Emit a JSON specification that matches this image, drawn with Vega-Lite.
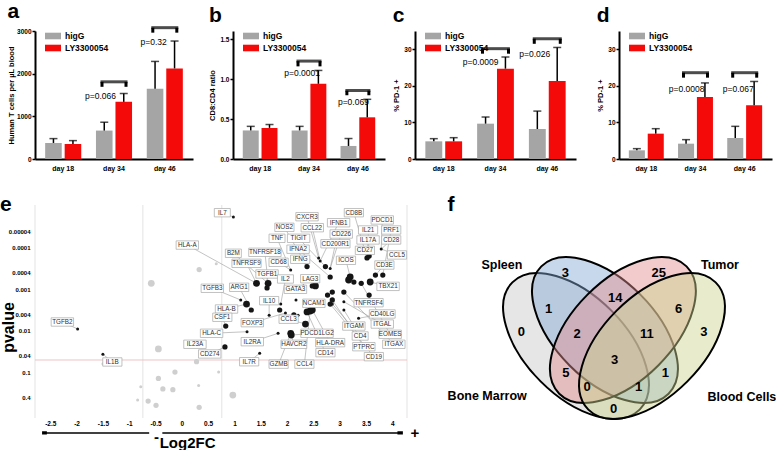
{
"$schema": "https://vega.github.io/schema/vega-lite/v6.json",
"background": "white",
"padding": {"left": 0, "top": 1, "right": 0, "bottom": 0},
"config": {
  "font": "Liberation Sans",
  "view": {"stroke": null},
  "axis": {"grid": false, "labelOverlap": false, "labelFont": "Liberation Sans", "titleFont": "Liberation Sans", "labelColor": "black", "titleColor": "black", "domainColor": "black", "tickColor": "black", "labelFontWeight": "bold", "titleFontWeight": "bold"},
  "legend": {"labelFont": "Liberation Sans", "labelFontWeight": "bold", "labelColor": "black"},
  "title": {"font": "Liberation Sans", "fontWeight": "bold", "fontSize": 21, "anchor": "start", "frame": "bounds", "color": "black", "offset": 0},
  "text": {"font": "Liberation Sans"}
},
"datasets": {
  "a": [
    {"day": "day 18", "group": "higG", "v": 376, "hi": 478},
    {"day": "day 18", "group": "LY3300054", "v": 352, "hi": 431},
    {"day": "day 34", "group": "higG", "v": 666, "hi": 862},
    {"day": "day 34", "group": "LY3300054", "v": 1339, "hi": 1535},
    {"day": "day 46", "group": "higG", "v": 1645, "hi": 2287},
    {"day": "day 46", "group": "LY3300054", "v": 2123, "hi": 2765}
  ],
  "ab": [
    {"day": "day 34", "by": 1809, "ly": 1692, "ty": 1488, "p": "p=0.066"},
    {"day": "day 46", "by": 3078, "ly": 2961, "ty": 2749, "p": "p=0.32"}
  ],
  "b": [
    {"day": "day 18", "group": "higG", "v": 0.357, "hi": 0.408},
    {"day": "day 18", "group": "LY3300054", "v": 0.389, "hi": 0.431},
    {"day": "day 34", "group": "higG", "v": 0.357, "hi": 0.408},
    {"day": "day 34", "group": "LY3300054", "v": 0.94, "hi": 1.107},
    {"day": "day 46", "group": "higG", "v": 0.163, "hi": 0.256},
    {"day": "day 46", "group": "LY3300054", "v": 0.521, "hi": 0.746}
  ],
  "bb": [
    {"day": "day 34", "by": 1.224, "ly": 1.158, "ty": 1.08, "p": "p=0.0001"},
    {"day": "day 46", "by": 0.855, "ly": 0.797, "ty": 0.711, "p": "p=0.069"}
  ],
  "c": [
    {"day": "day 18", "group": "higG", "v": 4.83, "hi": 5.56},
    {"day": "day 18", "group": "LY3300054", "v": 4.83, "hi": 5.83},
    {"day": "day 34", "group": "higG", "v": 9.66, "hi": 11.48},
    {"day": "day 34", "group": "LY3300054", "v": 24.7, "hi": 27.89},
    {"day": "day 46", "group": "higG", "v": 8.2, "hi": 13.1},
    {"day": "day 46", "group": "LY3300054", "v": 21.33, "hi": 30.5}
  ],
  "cb": [
    {"day": "day 34", "by": 30.17, "ly": 28.8, "ty": 26.5, "p": "p=0.0009"},
    {"day": "day 46", "by": 32.9, "ly": 31.5, "ty": 28.6, "p": "p=0.026"}
  ],
  "d": [
    {"day": "day 18", "group": "higG", "v": 2.37, "hi": 2.83},
    {"day": "day 18", "group": "LY3300054", "v": 6.93, "hi": 8.29},
    {"day": "day 34", "group": "higG", "v": 4.19, "hi": 5.29},
    {"day": "day 34", "group": "LY3300054", "v": 16.95, "hi": 20.8},
    {"day": "day 46", "group": "higG", "v": 5.74, "hi": 8.93},
    {"day": "day 46", "group": "LY3300054", "v": 14.68, "hi": 21.2}
  ],
  "db": [
    {"day": "day 34", "by": 23.6, "ly": 22.24, "ty": 19.05, "p": "p=0.0008"},
    {"day": "day 46", "by": 23.6, "ly": 22.24, "ty": 19.05, "p": "p=0.067"}
  ],
  "pts": [
    {"fc": -0.59, "p": 0.00071, "w": 3, "sig": "ns"},
    {"fc": 0.645, "p": 0.00024, "w": 1, "sig": "ns"},
    {"fc": 0.32, "p": 0.00033, "w": 2, "sig": "ns"},
    {"fc": -0.455, "p": 0.027, "w": 3, "sig": "ns"},
    {"fc": 0.27, "p": 0.055, "w": 2, "sig": "ns"},
    {"fc": -1.51, "p": 0.062, "w": 1, "sig": "ns"},
    {"fc": -0.14, "p": 0.0975, "w": 2, "sig": "ns"},
    {"fc": 0.69, "p": 0.0975, "w": 1, "sig": "ns"},
    {"fc": -0.455, "p": 0.139, "w": 2, "sig": "ns"},
    {"fc": -0.79, "p": 0.22, "w": 1, "sig": "ns"},
    {"fc": 0.31, "p": 0.205, "w": 1, "sig": "ns"},
    {"fc": -0.37, "p": 0.25, "w": 2, "sig": "ns"},
    {"fc": -0.18, "p": 0.26, "w": 2, "sig": "ns"},
    {"fc": 0.96, "p": 0.35, "w": 3, "sig": "ns"},
    {"fc": -0.85, "p": 0.46, "w": 1, "sig": "ns"},
    {"fc": -0.65, "p": 0.49, "w": 2, "sig": "ns"},
    {"fc": -0.5, "p": 0.62, "w": 2, "sig": "ns"},
    {"fc": 0.32, "p": 0.69, "w": 2, "sig": "ns"},
    {"fc": 0.97, "p": 0.0000179, "w": 1, "sig": "s"},
    {"fc": -1.99, "p": 0.00895, "w": 1, "sig": "s"},
    {"fc": -1.51, "p": 0.0363, "w": 1, "sig": "s"},
    {"fc": 0.825, "p": 0.0076, "w": 2, "sig": "s"},
    {"fc": 0.81, "p": 0.0243, "w": 2, "sig": "s"},
    {"fc": 1.23, "p": 0.0104, "w": 1, "sig": "s"},
    {"fc": 1.47, "p": 0.0344, "w": 1, "sig": "s"},
    {"fc": 1.11, "p": 0.00179, "w": 1, "sig": "s"},
    {"fc": 1.22, "p": 0.00224, "w": 3, "sig": "s"},
    {"fc": 1.31, "p": 0.00312, "w": 2, "sig": "s"},
    {"fc": 1.41, "p": 0.00071, "w": 3, "sig": "s"},
    {"fc": 1.63, "p": 0.00071, "w": 3, "sig": "s"},
    {"fc": 1.61, "p": 0.00092, "w": 2, "sig": "s"},
    {"fc": 2.06, "p": 0.00034, "w": 1, "sig": "s"},
    {"fc": 2.37, "p": 0.00028, "w": 2, "sig": "s"},
    {"fc": 1.87, "p": 0.00224, "w": 1, "sig": "s"},
    {"fc": 1.85, "p": 0.00312, "w": 2, "sig": "s"},
    {"fc": 1.96, "p": 0.00368, "w": 1, "sig": "s"},
    {"fc": 2.12, "p": 0.00411, "w": 2, "sig": "s"},
    {"fc": 1.82, "p": 0.0114, "w": 1, "sig": "s"},
    {"fc": 2.06, "p": 0.0114, "w": 3, "sig": "s"},
    {"fc": 2.07, "p": 0.0125, "w": 3, "sig": "s"},
    {"fc": 2.34, "p": 0.0068, "w": 3, "sig": "s"},
    {"fc": 2.37, "p": 0.00348, "w": 3, "sig": "s"},
    {"fc": 2.43, "p": 0.0033, "w": 3, "sig": "s"},
    {"fc": 2.47, "p": 0.00312, "w": 3, "sig": "s"},
    {"fc": 2.53, "p": 0.00082, "w": 3, "sig": "s"},
    {"fc": 2.47, "p": 0.00082, "w": 2, "sig": "s"},
    {"fc": 2.3, "p": 0.00082, "w": 1, "sig": "s"},
    {"fc": 2.16, "p": 0.00179, "w": 1, "sig": "s"},
    {"fc": 2.76, "p": 0.00136, "w": 2, "sig": "s"},
    {"fc": 2.85, "p": 0.00115, "w": 2, "sig": "s"},
    {"fc": 2.85, "p": 0.00179, "w": 2, "sig": "s"},
    {"fc": 2.81, "p": 0.00224, "w": 2, "sig": "s"},
    {"fc": 3.07, "p": 0.00115, "w": 2, "sig": "s"},
    {"fc": 3.07, "p": 0.00197, "w": 1, "sig": "s"},
    {"fc": 2.81, "p": 0.0005, "w": 2, "sig": "s"},
    {"fc": 2.59, "p": 0.000174, "w": 1, "sig": "s"},
    {"fc": 2.72, "p": 0.00028, "w": 2, "sig": "s"},
    {"fc": 2.62, "p": 0.000206, "w": 1, "sig": "s"},
    {"fc": 2.81, "p": 0.00031, "w": 1, "sig": "s"},
    {"fc": 3.19, "p": 0.0005, "w": 3, "sig": "s"},
    {"fc": 3.16, "p": 0.00059, "w": 3, "sig": "s"},
    {"fc": 3.26, "p": 0.00066, "w": 2, "sig": "s"},
    {"fc": 3.4, "p": 0.00071, "w": 2, "sig": "s"},
    {"fc": 3.57, "p": 0.00066, "w": 3, "sig": "s"},
    {"fc": 3.67, "p": 0.00045, "w": 2, "sig": "s"},
    {"fc": 3.81, "p": 0.00045, "w": 2, "sig": "s"},
    {"fc": 3.51, "p": 0.000174, "w": 2, "sig": "s"},
    {"fc": 3.55, "p": 0.000156, "w": 2, "sig": "s"},
    {"fc": 3.78, "p": 0.000106, "w": 1, "sig": "s"},
    {"fc": 3.55, "p": 0.00136, "w": 2, "sig": "s"},
    {"fc": 3.07, "p": 0.00312, "w": 1, "sig": "s"},
    {"fc": 3.35, "p": 0.00494, "w": 1, "sig": "s"},
    {"fc": 2.85, "p": 0.00224, "w": 1, "sig": "s"},
    {"fc": 1.65, "p": 0.0042, "w": 1, "sig": "s"},
    {"fc": 2.2, "p": 0.0042, "w": 1, "sig": "s"}
  ],
  "labs": [
    {"g": "IL7", "lx": 0.76, "ly": 0.0000141, "tx": 0.97, "ty": 0.0000179},
    {"g": "TGFB2", "lx": -2.28, "ly": 0.00607, "tx": -1.99, "ty": 0.00895},
    {"g": "IL1B", "lx": -1.33, "ly": 0.0558, "tx": -1.51, "ty": 0.0363},
    {"g": "HLA-A", "lx": 0.095, "ly": 0.000085, "tx": 1.41, "ty": 0.00071},
    {"g": "B2M", "lx": 0.97, "ly": 0.000134, "tx": 1.63, "ty": 0.00071},
    {"g": "TNFRSF9", "lx": 1.22, "ly": 0.000234, "tx": 1.41, "ty": 0.00071},
    {"g": "TNFRSF18", "lx": 1.57, "ly": 0.000127, "tx": 1.63, "ty": 0.00071},
    {"g": "TGFB3", "lx": 0.57, "ly": 0.000935, "tx": 1.11, "ty": 0.00179},
    {"g": "ARG1", "lx": 1.08, "ly": 0.000885, "tx": 1.31, "ty": 0.00312},
    {"g": "HLA-B", "lx": 0.84, "ly": 0.00295, "tx": 1.22, "ty": 0.00224},
    {"g": "CSF1", "lx": 0.76, "ly": 0.00467, "tx": 0.825, "ty": 0.0076},
    {"g": "HLA-C", "lx": 0.556, "ly": 0.01136, "tx": 1.23, "ty": 0.0104},
    {"g": "IL23A", "lx": 0.24, "ly": 0.0209, "tx": 0.24, "ty": 0.0209},
    {"g": "CD274", "lx": 0.52, "ly": 0.0358, "tx": 0.81, "ty": 0.0243},
    {"g": "CXCR3", "lx": 2.37, "ly": 0.0000176, "tx": 2.59, "ty": 0.000174},
    {"g": "NOS2", "lx": 1.94, "ly": 0.0000317, "tx": 2.37, "ty": 0.00028},
    {"g": "CCL22", "lx": 2.47, "ly": 0.0000324, "tx": 2.62, "ty": 0.000206},
    {"g": "TNF", "lx": 1.8, "ly": 0.0000584, "tx": 2.06, "ty": 0.00034},
    {"g": "TIGIT", "lx": 2.21, "ly": 0.0000584, "tx": 2.72, "ty": 0.00028},
    {"g": "IFNA2", "lx": 2.2, "ly": 0.000107, "tx": 2.81, "ty": 0.0005},
    {"g": "IFNG", "lx": 2.24, "ly": 0.000187, "tx": 2.37, "ty": 0.00028},
    {"g": "CD68", "lx": 1.83, "ly": 0.000221, "tx": 2.06, "ty": 0.00034},
    {"g": "TGFB1", "lx": 1.61, "ly": 0.000423, "tx": 1.61, "ty": 0.00092},
    {"g": "IL2", "lx": 1.96, "ly": 0.000558, "tx": 1.87, "ty": 0.00224},
    {"g": "LAG3", "lx": 2.43, "ly": 0.00055, "tx": 2.53, "ty": 0.00082},
    {"g": "GATA3", "lx": 2.15, "ly": 0.00099, "tx": 2.3, "ty": 0.00082},
    {"g": "IL10", "lx": 1.65, "ly": 0.00186, "tx": 1.65, "ty": 0.0042},
    {"g": "NCAM1", "lx": 2.5, "ly": 0.00215, "tx": 2.43, "ty": 0.0033},
    {"g": "FOXP3", "lx": 1.33, "ly": 0.0063, "tx": 1.96, "ty": 0.00368},
    {"g": "CCL3", "lx": 2.02, "ly": 0.0052, "tx": 2.34, "ty": 0.0068},
    {"g": "PDCD1LG2", "lx": 2.56, "ly": 0.01136, "tx": 2.07, "ty": 0.0125},
    {"g": "IL2RA", "lx": 1.33, "ly": 0.0181, "tx": 1.82, "ty": 0.0114},
    {"g": "HAVCR2", "lx": 2.12, "ly": 0.0209, "tx": 2.07, "ty": 0.0125},
    {"g": "HLA-DRA", "lx": 2.81, "ly": 0.0191, "tx": 2.47, "ty": 0.00312},
    {"g": "CD14", "lx": 2.72, "ly": 0.0333, "tx": 2.37, "ty": 0.00348},
    {"g": "IL7R", "lx": 1.27, "ly": 0.055, "tx": 1.47, "ty": 0.0344},
    {"g": "GZMB", "lx": 1.83, "ly": 0.063, "tx": 2.06, "ty": 0.0114},
    {"g": "CCL4", "lx": 2.32, "ly": 0.063, "tx": 2.43, "ty": 0.0033},
    {"g": "CD8B", "lx": 3.26, "ly": 0.0000141, "tx": 3.51, "ty": 0.000174},
    {"g": "PDCD1", "lx": 3.8, "ly": 0.0000211, "tx": 3.78, "ty": 0.000106},
    {"g": "IFNB1", "lx": 2.97, "ly": 0.0000246, "tx": 2.62, "ty": 0.000206},
    {"g": "IL21", "lx": 3.53, "ly": 0.0000368, "tx": 3.55, "ty": 0.000156},
    {"g": "PRF1", "lx": 3.97, "ly": 0.0000368, "tx": 3.81, "ty": 0.00045},
    {"g": "CD226", "lx": 3.02, "ly": 0.000046, "tx": 2.81, "ty": 0.00031},
    {"g": "IL17A", "lx": 3.53, "ly": 0.000064, "tx": 3.51, "ty": 0.000174},
    {"g": "CD28", "lx": 3.97, "ly": 0.000064, "tx": 3.78, "ty": 0.000106},
    {"g": "CD200R1", "lx": 2.91, "ly": 0.000079, "tx": 2.81, "ty": 0.00031},
    {"g": "CD27", "lx": 3.47, "ly": 0.000114, "tx": 3.51, "ty": 0.000174},
    {"g": "CCL5", "lx": 4.08, "ly": 0.000147, "tx": 3.78, "ty": 0.000106},
    {"g": "ICOS", "lx": 3.11, "ly": 0.000198, "tx": 3.19, "ty": 0.0005},
    {"g": "CD3E", "lx": 3.84, "ly": 0.000257, "tx": 3.67, "ty": 0.00045},
    {"g": "TBX21", "lx": 3.91, "ly": 0.00084, "tx": 3.57, "ty": 0.00066},
    {"g": "TNFRSF4", "lx": 3.54, "ly": 0.00208, "tx": 3.55, "ty": 0.00136},
    {"g": "CD40LG", "lx": 3.8, "ly": 0.00389, "tx": 3.35, "ty": 0.00494},
    {"g": "ITGAM", "lx": 3.26, "ly": 0.0076, "tx": 3.07, "ty": 0.00312},
    {"g": "ITGAL", "lx": 3.8, "ly": 0.0068, "tx": 3.07, "ty": 0.00197},
    {"g": "CD4", "lx": 3.38, "ly": 0.0132, "tx": 2.85, "ty": 0.00224},
    {"g": "EOMES", "lx": 3.95, "ly": 0.012, "tx": 3.4, "ty": 0.00071},
    {"g": "PTPRC", "lx": 3.45, "ly": 0.0239, "tx": 2.85, "ty": 0.00179},
    {"g": "ITGAX", "lx": 4.02, "ly": 0.0209, "tx": 3.07, "ty": 0.00115},
    {"g": "CD19", "lx": 3.64, "ly": 0.0416, "tx": 2.81, "ty": 0.00224}
  ],
  "xt": [
    {"v": -2.5, "t": "-2.5"}, {"v": -2, "t": "-2"}, {"v": -1.5, "t": "-1.5"}, {"v": -1, "t": "-1"},
    {"v": -0.5, "t": "-0.5"}, {"v": 0, "t": "0"}, {"v": 0.5, "t": "0.5"}, {"v": 1, "t": "1"},
    {"v": 1.5, "t": "1.5"}, {"v": 2, "t": "2"}, {"v": 2.5, "t": "2.5"}, {"v": 3, "t": "3"},
    {"v": 3.5, "t": "3.5"}, {"v": 4, "t": "4"}
  ],
  "vlines": [{"fc": -2.8}, {"fc": -0.75}, {"fc": 0.75}, {"fc": 4.27}],
  "hline": [{"p": 0.05}],
  "arrows": [{"x1": -2.62, "x2": -0.63, "y": 2.87}, {"x1": -0.38, "x2": 4.14, "y": 2.87}],
  "heads": [{"x1": -2.62, "y": 2.87, "d": "L"}, {"x1": 4.14, "y": 2.87, "d": "R"}],
  "etext": [{"t": "-", "x1": -0.49, "y": 3.6}, {"t": "+", "x1": 4.42, "y": 2.95}, {"t": "Log2FC", "x1": 0.1, "y": 5.0}],
  "sets": [
    {"set": "Bone Marrow", "x": 0.3875, "y": 0.5875, "tilt": "down"},
    {"set": "Spleen", "x": 0.478, "y": 0.521, "tilt": "down"},
    {"set": "Tumor", "x": 0.534, "y": 0.521, "tilt": "up"},
    {"set": "Blood Cells", "x": 0.625, "y": 0.5875, "tilt": "up"}
  ],
  "regions": [
    {"n": "3", "x": 0.354, "y": 0.285},
    {"n": "25", "x": 0.646, "y": 0.285},
    {"n": "0", "x": 0.217, "y": 0.53},
    {"n": "3", "x": 0.787, "y": 0.53},
    {"n": "14", "x": 0.51, "y": 0.389},
    {"n": "1", "x": 0.302, "y": 0.433},
    {"n": "6", "x": 0.708, "y": 0.433},
    {"n": "2", "x": 0.391, "y": 0.539},
    {"n": "11", "x": 0.609, "y": 0.539},
    {"n": "3", "x": 0.508, "y": 0.646},
    {"n": "5", "x": 0.356, "y": 0.699},
    {"n": "1", "x": 0.667, "y": 0.699},
    {"n": "0", "x": 0.422, "y": 0.757},
    {"n": "1", "x": 0.583, "y": 0.757},
    {"n": "0", "x": 0.505, "y": 0.85}
  ],
  "setnames": [
    {"t": "Spleen", "x": 0.156, "y": 0.25},
    {"t": "Tumor", "x": 0.8375, "y": 0.25},
    {"t": "Bone Marrow", "x": 0.11, "y": 0.796},
    {"t": "Blood Cells", "x": 0.906, "y": 0.8}
  ]
},
"resolve": {"scale": {"color": "independent", "xOffset": "independent", "shape": "independent", "size": "independent"}, "legend": {"color": "independent"}},
"spacing": 22,
"vconcat": [
  {
    "spacing": 15,
    "resolve": {"scale": {"color": "independent", "xOffset": "independent", "shape": "independent", "size": "independent"}, "legend": {"color": "independent"}},
    "hconcat": [
      {
        "width": 158, "height": 128,
        "title": {"text": "a"},
        "layer": [
          {"data": {"name": "a"}, "mark": {"type": "bar"},
           "encoding": {
             "x": {"field": "day", "type": "nominal", "scale": {"domain": ["day 18", "day 34", "day 46"], "paddingInner": 0.29, "paddingOuter": 0.2}, "axis": {"title": null, "labelAngle": 0, "labelFontSize": 7, "ticks": false, "domainWidth": 2, "labelPadding": 5}},
             "xOffset": {"field": "group", "type": "nominal", "scale": {"domain": ["higG", "LY3300054"], "paddingInner": 0.15}},
             "y": {"field": "v", "type": "quantitative", "scale": {"domain": [0, 3000]}, "axis": {"title": "Human T cells per µL blood", "values": [0, 1000, 2000, 3000], "format": "d", "labelFontSize": 6.5, "titleFontSize": 7.5, "tickSize": 3, "tickWidth": 1.5, "domainWidth": 2, "titlePadding": 1, "labelPadding": 1}},
             "color": {"field": "group", "type": "nominal", "scale": {"domain": ["higG", "LY3300054"], "range": ["#a5a5a5", "#f50a0a"]}, "legend": {"orient": "none", "legendX": 12, "legendY": -1, "title": null, "symbolType": "M -1.33 -0.55 L 1.33 -0.55 L 1.33 0.55 L -1.33 0.55 Z", "symbolSize": 144, "symbolStrokeWidth": 0, "labelFontSize": 8.5, "padding": 0, "rowPadding": 1, "labelOffset": 6}}
           }},
          {"data": {"name": "a"}, "mark": {"type": "rule", "color": "black", "strokeWidth": 1.5},
           "encoding": {"x": {"field": "day", "type": "nominal"}, "xOffset": {"field": "group", "type": "nominal"}, "y": {"field": "v", "type": "quantitative"}, "y2": {"field": "hi"}}},
          {"data": {"name": "a"}, "mark": {"type": "tick", "orient": "horizontal", "color": "black", "size": 8, "thickness": 1.5},
           "encoding": {"x": {"field": "day", "type": "nominal"}, "xOffset": {"field": "group", "type": "nominal"}, "y": {"field": "hi", "type": "quantitative"}}},
          {"data": {"name": "ab"}, "mark": {"type": "tick", "orient": "horizontal", "color": "black", "size": 27, "thickness": 3},
           "encoding": {"x": {"field": "day", "type": "nominal"}, "y": {"field": "by", "type": "quantitative"}}},
          {"data": {"name": "ab"}, "mark": {"type": "rule", "color": "black", "strokeWidth": 3, "xOffset": -12},
           "encoding": {"x": {"field": "day", "type": "nominal"}, "y": {"field": "by", "type": "quantitative"}, "y2": {"field": "ly"}}},
          {"data": {"name": "ab"}, "mark": {"type": "rule", "color": "black", "strokeWidth": 3, "xOffset": 12},
           "encoding": {"x": {"field": "day", "type": "nominal"}, "y": {"field": "by", "type": "quantitative"}, "y2": {"field": "ly"}}},
          {"data": {"name": "ab"}, "mark": {"type": "text", "align": "right", "baseline": "middle", "dx": 2, "fontSize": 8.5, "color": "black"},
           "encoding": {"x": {"field": "day", "type": "nominal"}, "y": {"field": "ty", "type": "quantitative"}, "text": {"field": "p"}}}
        ]
      },
      {
        "spacing": 20,
        "resolve": {"scale": {"color": "independent", "xOffset": "independent", "shape": "independent", "size": "independent"}, "legend": {"color": "independent"}},
        "hconcat": [
          {
            "spacing": 7,
            "resolve": {"scale": {"color": "independent", "xOffset": "independent", "shape": "independent", "size": "independent"}, "legend": {"color": "independent"}},
            "hconcat": [
              {
                "width": 152, "height": 128,
                "title": {"text": "b"},
                "layer": [
                  {"data": {"name": "b"}, "mark": {"type": "bar"},
                   "encoding": {
                     "x": {"field": "day", "type": "nominal", "scale": {"domain": ["day 18", "day 34", "day 46"], "paddingInner": 0.29, "paddingOuter": 0.2}, "axis": {"title": null, "labelAngle": 0, "labelFontSize": 7, "ticks": false, "domainWidth": 2, "labelPadding": 5}},
                     "xOffset": {"field": "group", "type": "nominal", "scale": {"domain": ["higG", "LY3300054"], "paddingInner": 0.15}},
                     "y": {"field": "v", "type": "quantitative", "scale": {"domain": [0, 1.5]}, "axis": {"title": "CD8:CD4 ratio", "values": [0, 0.5, 1, 1.5], "format": ".1f", "labelFontSize": 6.5, "titleFontSize": 7.5, "tickSize": 3, "tickWidth": 1.5, "domainWidth": 2, "titlePadding": 3, "labelPadding": 1}},
                     "color": {"field": "group", "type": "nominal", "scale": {"domain": ["higG", "LY3300054"], "range": ["#a5a5a5", "#f50a0a"]}, "legend": {"orient": "none", "legendX": 12, "legendY": -1, "title": null, "symbolType": "M -1.33 -0.55 L 1.33 -0.55 L 1.33 0.55 L -1.33 0.55 Z", "symbolSize": 144, "symbolStrokeWidth": 0, "labelFontSize": 8.5, "padding": 0, "rowPadding": 1, "labelOffset": 6}}
                   }},
                  {"data": {"name": "b"}, "mark": {"type": "rule", "color": "black", "strokeWidth": 1.5},
                   "encoding": {"x": {"field": "day", "type": "nominal"}, "xOffset": {"field": "group", "type": "nominal"}, "y": {"field": "v", "type": "quantitative"}, "y2": {"field": "hi"}}},
                  {"data": {"name": "b"}, "mark": {"type": "tick", "orient": "horizontal", "color": "black", "size": 8, "thickness": 1.5},
                   "encoding": {"x": {"field": "day", "type": "nominal"}, "xOffset": {"field": "group", "type": "nominal"}, "y": {"field": "hi", "type": "quantitative"}}},
                  {"data": {"name": "bb"}, "mark": {"type": "tick", "orient": "horizontal", "color": "black", "size": 25, "thickness": 3},
                   "encoding": {"x": {"field": "day", "type": "nominal"}, "y": {"field": "by", "type": "quantitative"}}},
                  {"data": {"name": "bb"}, "mark": {"type": "rule", "color": "black", "strokeWidth": 3, "xOffset": -11},
                   "encoding": {"x": {"field": "day", "type": "nominal"}, "y": {"field": "by", "type": "quantitative"}, "y2": {"field": "ly"}}},
                  {"data": {"name": "bb"}, "mark": {"type": "rule", "color": "black", "strokeWidth": 3, "xOffset": 11},
                   "encoding": {"x": {"field": "day", "type": "nominal"}, "y": {"field": "by", "type": "quantitative"}, "y2": {"field": "ly"}}},
                  {"data": {"name": "bb"}, "mark": {"type": "text", "align": "right", "baseline": "middle", "dx": 11, "fontSize": 8.5, "color": "black"},
                   "encoding": {"x": {"field": "day", "type": "nominal"}, "y": {"field": "ty", "type": "quantitative"}, "text": {"field": "p"}}}
                ]
              },
              {
                "width": 161, "height": 128,
                "title": {"text": "c"},
                "layer": [
                  {"data": {"name": "c"}, "mark": {"type": "bar"},
                   "encoding": {
                     "x": {"field": "day", "type": "nominal", "scale": {"domain": ["day 18", "day 34", "day 46"], "paddingInner": 0.29, "paddingOuter": 0.2}, "axis": {"title": null, "labelAngle": 0, "labelFontSize": 7, "ticks": false, "domainWidth": 2, "labelPadding": 5}},
                     "xOffset": {"field": "group", "type": "nominal", "scale": {"domain": ["higG", "LY3300054"], "paddingInner": 0.15}},
                     "y": {"field": "v", "type": "quantitative", "scale": {"domain": [0, 35]}, "axis": {"title": "% PD-1 +", "values": [0, 5, 10, 15, 20, 25, 30, 35], "labelFontSize": 6.5, "titleFontSize": 7.5, "tickSize": 3, "tickWidth": 1.5, "domainWidth": 2, "titlePadding": 3, "labelPadding": 1}},
                     "color": {"field": "group", "type": "nominal", "scale": {"domain": ["higG", "LY3300054"], "range": ["#a5a5a5", "#f50a0a"]}, "legend": {"orient": "none", "legendX": 12, "legendY": -1, "title": null, "symbolType": "M -1.33 -0.55 L 1.33 -0.55 L 1.33 0.55 L -1.33 0.55 Z", "symbolSize": 144, "symbolStrokeWidth": 0, "labelFontSize": 8.5, "padding": 0, "rowPadding": 1, "labelOffset": 6}}
                   }},
                  {"data": {"name": "c"}, "mark": {"type": "rule", "color": "black", "strokeWidth": 1.5},
                   "encoding": {"x": {"field": "day", "type": "nominal"}, "xOffset": {"field": "group", "type": "nominal"}, "y": {"field": "v", "type": "quantitative"}, "y2": {"field": "hi"}}},
                  {"data": {"name": "c"}, "mark": {"type": "tick", "orient": "horizontal", "color": "black", "size": 8, "thickness": 1.5},
                   "encoding": {"x": {"field": "day", "type": "nominal"}, "xOffset": {"field": "group", "type": "nominal"}, "y": {"field": "hi", "type": "quantitative"}}},
                  {"data": {"name": "cb"}, "mark": {"type": "tick", "orient": "horizontal", "color": "black", "size": 29, "thickness": 3},
                   "encoding": {"x": {"field": "day", "type": "nominal"}, "y": {"field": "by", "type": "quantitative"}}},
                  {"data": {"name": "cb"}, "mark": {"type": "rule", "color": "black", "strokeWidth": 3, "xOffset": -13},
                   "encoding": {"x": {"field": "day", "type": "nominal"}, "y": {"field": "by", "type": "quantitative"}, "y2": {"field": "ly"}}},
                  {"data": {"name": "cb"}, "mark": {"type": "rule", "color": "black", "strokeWidth": 3, "xOffset": 13},
                   "encoding": {"x": {"field": "day", "type": "nominal"}, "y": {"field": "by", "type": "quantitative"}, "y2": {"field": "ly"}}},
                  {"data": {"name": "cb"}, "mark": {"type": "text", "align": "right", "baseline": "middle", "dx": 3, "fontSize": 8.5, "color": "black"},
                   "encoding": {"x": {"field": "day", "type": "nominal"}, "y": {"field": "ty", "type": "quantitative"}, "text": {"field": "p"}}}
                ]
              }
            ]
          },
          {
            "width": 153, "height": 128,
            "title": {"text": "d"},
            "layer": [
              {"data": {"name": "d"}, "mark": {"type": "bar"},
               "encoding": {
                 "x": {"field": "day", "type": "nominal", "scale": {"domain": ["day 18", "day 34", "day 46"], "paddingInner": 0.29, "paddingOuter": 0.2}, "axis": {"title": null, "labelAngle": 0, "labelFontSize": 7, "ticks": false, "domainWidth": 2, "labelPadding": 5}},
                 "xOffset": {"field": "group", "type": "nominal", "scale": {"domain": ["higG", "LY3300054"], "paddingInner": 0.15}},
                 "y": {"field": "v", "type": "quantitative", "scale": {"domain": [0, 35]}, "axis": {"title": "% PD-1 +", "values": [0, 5, 10, 15, 20, 25, 30, 35], "labelFontSize": 6.5, "titleFontSize": 7.5, "tickSize": 3, "tickWidth": 1.5, "domainWidth": 2, "titlePadding": 3, "labelPadding": 1}},
                 "color": {"field": "group", "type": "nominal", "scale": {"domain": ["higG", "LY3300054"], "range": ["#a5a5a5", "#f50a0a"]}, "legend": {"orient": "none", "legendX": 12, "legendY": -1, "title": null, "symbolType": "M -1.33 -0.55 L 1.33 -0.55 L 1.33 0.55 L -1.33 0.55 Z", "symbolSize": 144, "symbolStrokeWidth": 0, "labelFontSize": 8.5, "padding": 0, "rowPadding": 1, "labelOffset": 6}}
               }},
              {"data": {"name": "d"}, "mark": {"type": "rule", "color": "black", "strokeWidth": 1.5},
               "encoding": {"x": {"field": "day", "type": "nominal"}, "xOffset": {"field": "group", "type": "nominal"}, "y": {"field": "v", "type": "quantitative"}, "y2": {"field": "hi"}}},
              {"data": {"name": "d"}, "mark": {"type": "tick", "orient": "horizontal", "color": "black", "size": 8, "thickness": 1.5},
               "encoding": {"x": {"field": "day", "type": "nominal"}, "xOffset": {"field": "group", "type": "nominal"}, "y": {"field": "hi", "type": "quantitative"}}},
              {"data": {"name": "db"}, "mark": {"type": "tick", "orient": "horizontal", "color": "black", "size": 27, "thickness": 3},
               "encoding": {"x": {"field": "day", "type": "nominal"}, "y": {"field": "by", "type": "quantitative"}}},
              {"data": {"name": "db"}, "mark": {"type": "rule", "color": "black", "strokeWidth": 3, "xOffset": -12},
               "encoding": {"x": {"field": "day", "type": "nominal"}, "y": {"field": "by", "type": "quantitative"}, "y2": {"field": "ly"}}},
              {"data": {"name": "db"}, "mark": {"type": "rule", "color": "black", "strokeWidth": 3, "xOffset": 12},
               "encoding": {"x": {"field": "day", "type": "nominal"}, "y": {"field": "by", "type": "quantitative"}, "y2": {"field": "ly"}}},
              {"data": {"name": "db"}, "mark": {"type": "text", "align": "right", "baseline": "middle", "dx": 9, "fontSize": 8.5, "color": "black"},
               "encoding": {"x": {"field": "day", "type": "nominal"}, "y": {"field": "ty", "type": "quantitative"}, "text": {"field": "p"}}}
            ]
          }
        ]
      }
    ]
  },
  {
    "spacing": 27,
    "resolve": {"scale": {"color": "independent", "xOffset": "independent", "shape": "independent", "size": "independent"}, "legend": {"color": "independent"}},
    "hconcat": [
      {
        "width": 372, "height": 213,
        "title": {"text": "e", "offset": -10},
        "layer": [
          {"data": {"name": "vlines"}, "mark": {"type": "rule", "color": "#e3e3e3", "strokeWidth": 1},
           "encoding": {"x": {"field": "fc", "type": "quantitative", "scale": {"domain": [-2.8, 4.27], "nice": false, "zero": false}, "axis": null}}},
          {"data": {"name": "hline"}, "mark": {"type": "rule", "color": "#ecc4c4", "strokeWidth": 1},
           "encoding": {"y": {"field": "p", "type": "quantitative", "scale": {"type": "log", "domain": [0.0000092, 1.25], "reverse": true, "nice": false}, "axis": {"title": "pvalue", "values": [0.00004, 0.0001, 0.0004, 0.001, 0.004, 0.01, 0.04, 0.1, 0.4], "labelExpr": "toString(datum.value)", "labelOverlap": false, "labelFontSize": 6, "ticks": false, "domain": false, "labelPadding": 5, "titleFontSize": 16, "titleX": -19, "titleY": 122}}}},
          {"data": {"name": "labs"}, "mark": {"type": "rule", "color": "#9a9a9a", "strokeWidth": 0.6},
           "encoding": {"x": {"field": "lx", "type": "quantitative", "axis": null}, "x2": {"field": "tx"}, "y": {"field": "ly", "type": "quantitative"}, "y2": {"field": "ty"}}},
          {"data": {"name": "pts"}, "mark": {"type": "point", "filled": true, "opacity": 1},
           "encoding": {"x": {"field": "fc", "type": "quantitative", "axis": null}, "y": {"field": "p", "type": "quantitative"},
             "color": {"field": "sig", "type": "nominal", "scale": {"domain": ["ns", "s"], "range": ["#cfcfcf", "#151515"]}, "legend": null},
             "size": {"field": "w", "type": "quantitative", "scale": {"domain": [1, 3], "range": [9, 46]}, "legend": null}}},
          {"data": {"name": "labs"}, "transform": [{"calculate": "length(datum.g)", "as": "n"}],
           "mark": {"type": "point", "filled": true, "fill": "white", "stroke": "#a8a8a8", "strokeWidth": 0.7, "size": 1600, "opacity": 1},
           "encoding": {"x": {"field": "lx", "type": "quantitative", "axis": null}, "y": {"field": "ly", "type": "quantitative"},
             "shape": {"field": "n", "type": "ordinal", "scale": {"domain": [3, 4, 5, 6, 7, 8], "range": [
               "M -0.4 -0.21 L 0.4 -0.21 L 0.4 0.21 L -0.4 0.21 Z",
               "M -0.48 -0.21 L 0.48 -0.21 L 0.48 0.21 L -0.48 0.21 Z",
               "M -0.56 -0.21 L 0.56 -0.21 L 0.56 0.21 L -0.56 0.21 Z",
               "M -0.645 -0.21 L 0.645 -0.21 L 0.645 0.21 L -0.645 0.21 Z",
               "M -0.73 -0.21 L 0.73 -0.21 L 0.73 0.21 L -0.73 0.21 Z",
               "M -0.81 -0.21 L 0.81 -0.21 L 0.81 0.21 L -0.81 0.21 Z"]}, "legend": null}}},
          {"data": {"name": "labs"}, "mark": {"type": "text", "fontSize": 6.3, "color": "#303030", "align": "center", "baseline": "middle"},
           "encoding": {"x": {"field": "lx", "type": "quantitative", "axis": null}, "y": {"field": "ly", "type": "quantitative"}, "text": {"field": "g"}}},
          {"data": {"name": "xt"}, "mark": {"type": "text", "fontSize": 6.5, "fontWeight": "bold", "color": "black", "align": "center", "baseline": "middle"},
           "encoding": {"x": {"field": "v", "type": "quantitative", "axis": null}, "y": {"datum": 1.74, "type": "quantitative"}, "text": {"field": "t"}}},
          {"data": {"name": "arrows"}, "mark": {"type": "rule", "color": "black", "strokeWidth": 1.6},
           "encoding": {"x": {"field": "x1", "type": "quantitative", "axis": null}, "x2": {"field": "x2"}, "y": {"field": "y", "type": "quantitative"}}},
          {"data": {"name": "heads"}, "mark": {"type": "point", "filled": false, "color": "black", "strokeWidth": 1.6, "size": 64, "opacity": 1},
           "encoding": {"x": {"field": "x1", "type": "quantitative", "axis": null}, "y": {"field": "y", "type": "quantitative"},
             "shape": {"field": "d", "type": "nominal", "scale": {"domain": ["L", "R"], "range": ["M 1 -1 L -1 0 L 1 1", "M -1 -1 L 1 0 L -1 1"]}, "legend": null}}},
          {"data": {"name": "etext"}, "mark": {"type": "text", "fontSize": 15, "fontWeight": "bold", "color": "black", "align": "center", "baseline": "middle"},
           "encoding": {"x": {"field": "x1", "type": "quantitative", "axis": null}, "y": {"field": "y", "type": "quantitative"}, "text": {"field": "t"}}}
        ]
      },
      {
        "width": 320, "height": 240,
        "title": {"text": "f", "offset": -10},
        "layer": [
          {"data": {"name": "sets"}, "transform": [{"filter": "datum.tilt == 'down'"}],
           "mark": {"type": "point", "filled": true, "shape": "M -1 0 C -1 -0.307 -0.552 -0.556 0 -0.556 C 0.552 -0.556 1 -0.307 1 0 C 1 0.307 0.552 0.556 0 0.556 C -0.552 0.556 -1 0.307 -1 0 Z", "size": 32400, "angle": 45, "stroke": "black", "strokeWidth": 2, "fillOpacity": 0.45, "opacity": 1},
           "encoding": {"x": {"field": "x", "type": "quantitative", "scale": {"domain": [0, 1]}, "axis": null}, "y": {"field": "y", "type": "quantitative", "scale": {"domain": [0, 1], "reverse": true}, "axis": null},
             "color": {"field": "set", "type": "nominal", "scale": {"domain": ["Bone Marrow", "Spleen", "Tumor", "Blood Cells"], "range": ["#c8c8c8", "#85a9d5", "#e38e8e", "#ccd58e"]}, "legend": null}}},
          {"data": {"name": "sets"}, "transform": [{"filter": "datum.tilt == 'up'"}],
           "mark": {"type": "point", "filled": true, "shape": "M -1 0 C -1 -0.307 -0.552 -0.556 0 -0.556 C 0.552 -0.556 1 -0.307 1 0 C 1 0.307 0.552 0.556 0 0.556 C -0.552 0.556 -1 0.307 -1 0 Z", "size": 32400, "angle": 315, "stroke": "black", "strokeWidth": 2, "fillOpacity": 0.45, "opacity": 1},
           "encoding": {"x": {"field": "x", "type": "quantitative"}, "y": {"field": "y", "type": "quantitative"},
             "color": {"field": "set", "type": "nominal", "legend": null}}},
          {"data": {"name": "regions"}, "mark": {"type": "text", "fontSize": 13, "fontWeight": "bold", "color": "black", "align": "center", "baseline": "middle"},
           "encoding": {"x": {"field": "x", "type": "quantitative"}, "y": {"field": "y", "type": "quantitative"}, "text": {"field": "n"}}},
          {"data": {"name": "setnames"}, "mark": {"type": "text", "fontSize": 12.5, "fontWeight": "bold", "color": "black", "align": "center", "baseline": "middle"},
           "encoding": {"x": {"field": "x", "type": "quantitative"}, "y": {"field": "y", "type": "quantitative"}, "text": {"field": "t"}}}
        ]
      }
    ]
  }
]
}
